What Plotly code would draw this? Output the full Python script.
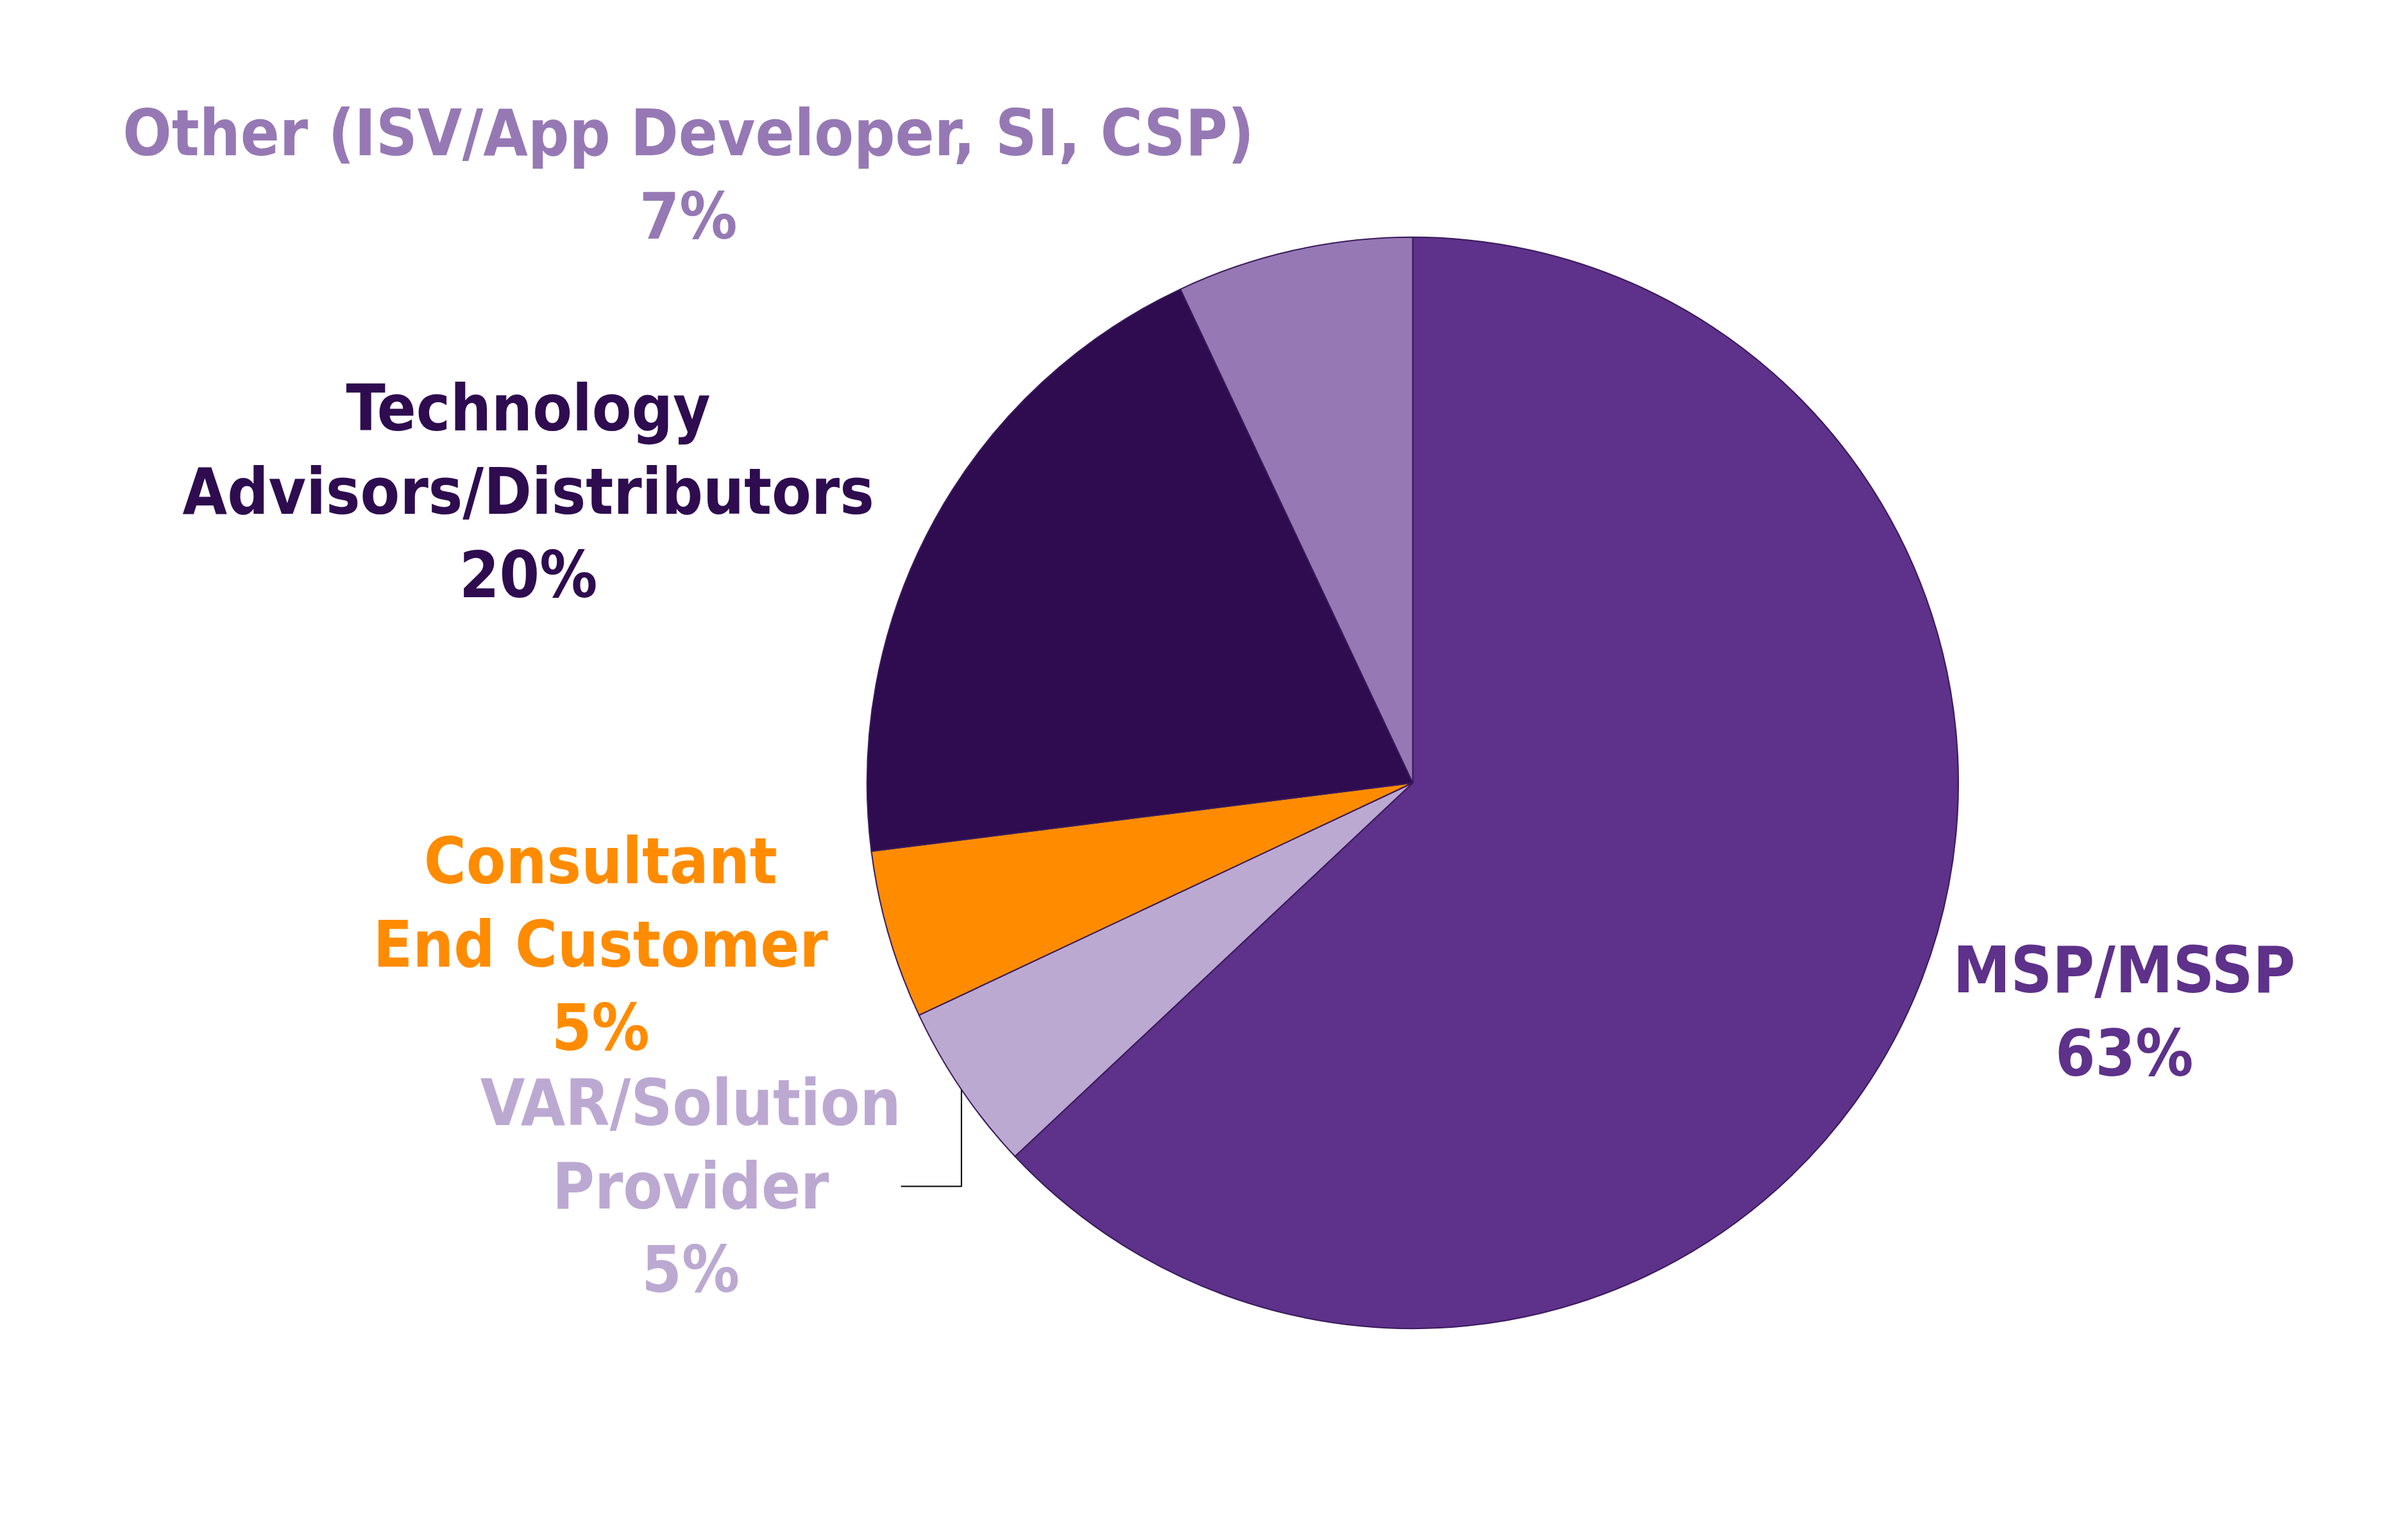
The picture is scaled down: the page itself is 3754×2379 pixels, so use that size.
import plotly.graph_objects as go

labels = ["MSP/MSSP", "VAR/Solution<br>Provider", "Consultant<br>End Customer",
          "Technology<br>Advisors/Distributors", "Other (ISV/App Developer, SI, CSP)"]
values = [63, 5, 5, 20, 7]
colors = ["#5e318a", "#bca9d2", "#ff8c00", "#2e0c4f", "#9679b4"]

FONT = "DejaVu Sans Condensed, Liberation Sans, sans-serif"
fig = go.Figure(go.Pie(
    labels=labels, values=values, sort=False, direction="clockwise", rotation=0,
    marker=dict(colors=colors, line=dict(color="#3a1a5c", width=2)),
    texttemplate="<b>%{label}<br>%{percent:.0%}</b>", textposition="outside",
    outsidetextfont=dict(color=colors, size=100, family=FONT),
    showlegend=False, domain=dict(x=[0.24, 0.86], y=[0.12, 0.86]),
))
fig.update_layout(width=3754, height=2379, paper_bgcolor="white",
                  margin=dict(l=40, r=40, t=40, b=40),
                  font=dict(family=FONT, size=100))
fig.write_html("out.html")
